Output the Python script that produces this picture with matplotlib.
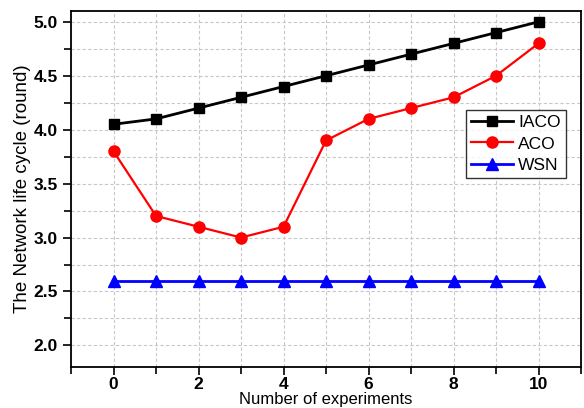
import numpy as np
import matplotlib
matplotlib.use("Agg")
import matplotlib.pyplot as plt
from matplotlib.ticker import MultipleLocator

plt.rcParams['font.family'] = ['Liberation Sans', 'DejaVu Sans']

# datos
experiments = list(range(11))
iaco = [4.05, 4.1, 4.2, 4.3, 4.4, 4.5, 4.6, 4.7, 4.8, 4.9, 5.0]
aco = [3.8, 3.2, 3.1, 3.0, 3.1, 3.9, 4.1, 4.2, 4.3, 4.5, 4.8]
wsn = [2.6] * 11

fig = plt.figure(figsize=(5.84, 4.08), dpi=100)
ax = fig.add_axes([0.1216, 0.1005, 0.8734, 0.8725])

ax.plot(experiments, iaco, color='black', marker='s', ms=7.5, lw=2, label='IACO')
ax.plot(experiments, aco, color='red', marker='o', ms=8, lw=1.6, label='ACO')
ax.plot(experiments, wsn, color='blue', marker='^', ms=8.5, lw=2, label='WSN')

ax.set_xlim(-1, 11)
ax.set_ylim(1.8, 5.1)
ax.xaxis.set_major_locator(MultipleLocator(2))
ax.xaxis.set_minor_locator(MultipleLocator(1))
ax.yaxis.set_major_locator(MultipleLocator(0.5))
ax.yaxis.set_minor_locator(MultipleLocator(0.25))

ax.grid(True, which='both', color='#c8c8c8', ls=(0, (3, 2)), lw=0.8)
ax.set_axisbelow(True)
ax.tick_params(which='major', direction='out', length=6, width=1.2, labelsize=12.5)
ax.tick_params(axis='x', which='major', pad=1)
ax.tick_params(which='minor', direction='out', length=5, width=1.2)
for lab in ax.get_xticklabels() + ax.get_yticklabels():
    lab.set_fontweight('bold')
for s in ax.spines.values():
    s.set_linewidth(1.3)

ax.set_xlabel('Number of experiments', fontsize=12, labelpad=0)
ax.set_ylabel('The Network life cycle (round)', fontsize=13.5, labelpad=2)

ax.legend(loc='upper right', bbox_to_anchor=(0.97, 0.722), fontsize=12.5,
          frameon=True, fancybox=False, edgecolor='black', handlelength=2.4,
          borderpad=0.3, labelspacing=0.35, handletextpad=0.3, borderaxespad=0)

fig.savefig('out.png', dpi=100)
